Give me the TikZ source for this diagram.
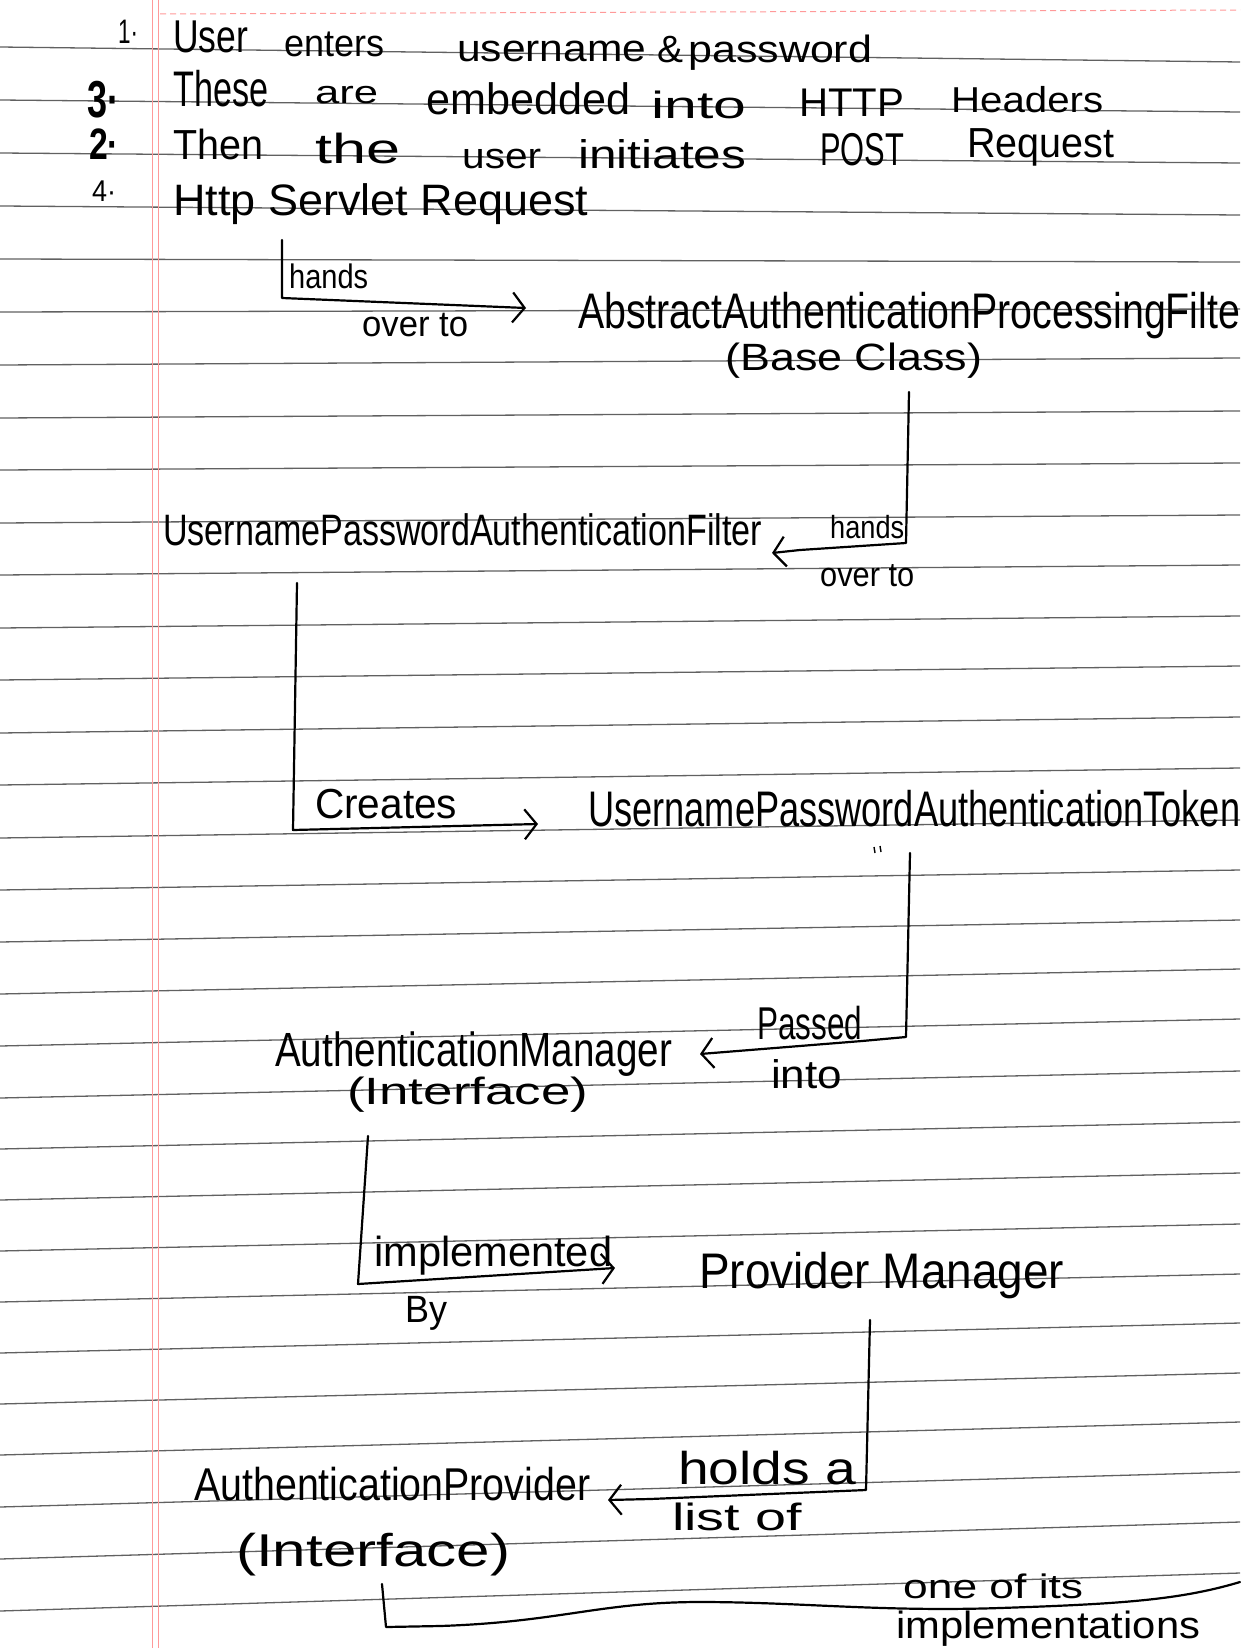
\documentclass[tikz,border=0pt]{standalone}
\usepackage{graphicx}
\usepackage{fontspec}
\setmainfont{Liberation Sans}
\usetikzlibrary{arrows.meta}

% set a word at a given width, squeezing or stretching it sideways only
\newsavebox\fitbox
\newcommand\fitto[2]{\sbox\fitbox{#2}\pgfmathsetmacro\fitsx{#1/\the\wd\fitbox}\scalebox{\fitsx}[1]{\usebox\fitbox}}

\tikzset{
  rule/.style={black!62, line width=1.3pt},
  margin/.style={red!40!white, line width=1pt},
  ink/.style={black, line width=2.2pt, line cap=round, line join=round},
  inkarrow/.style={ink, -{Straight Barb[length=12pt,width=30pt,line width=2.2pt]}},
  hw/.style={inner sep=0pt, anchor=base west, text=black, font=\fontsize{#1}{#1}\selectfont},
  hw/.default=40,
}

\begin{document}
\begin{tikzpicture}[x=1pt, y=-1pt]
\useasboundingbox (0,0) rectangle (1240,1648);
\fill[white] (0,0) rectangle (1240,1648);

% ruled paper: left height / drop towards the right edge
\draw[margin, dash pattern=on 6pt off 4pt] (160,14) -- (1240,10);
\foreach \yl/\d in {47/15, 100/12, 153/10, 206/9, 259/3, 312/-3, 365/-7, 418/-7,
  470/-7, 523/-8, 575/-10, 628/-12, 680/-14, 733/-16, 785/-17, 838/-18, 890/-20,
  942/-22, 994/-25, 1046/-27, 1098/-27, 1149/-27, 1200/-27, 1251/-27, 1302/-28,
  1353/-30, 1404/-31, 1455/-33, 1507/-35, 1559/-37, 1611/-38}{
  \draw[rule] (0,\yl) -- (1240,\yl+\d);
}
\draw[margin] (152,0) -- (152,1648);
\draw[margin] (158,0) -- (158,1648);

% numbered lines at the top
\node[hw=34] (n1) at (118,44) {\fitto{20}{1·}};
\node[hw=46] (u1) at (173,53) {\fitto{75}{User}};
\node[hw=38] (u2) at (284,57) {\fitto{100}{enters}};
\node[hw=38] (u3) at (457,62) {\fitto{189}{username}};
\node[hw=38] (u4) at (657,63) {\fitto{26}{\&}};
\node[hw=38] (u5) at (688,63) {\fitto{184}{password}};

\node[hw=52] (n3) at (87,118) {\fitto{32}{\bfseries 3·}};
\node[hw=50] (t1) at (173,107) {\fitto{95}{These}};
\node[hw=32] (t2) at (315,104) {\fitto{63}{are}};
\node[hw=44] (t3) at (426,115) {\fitto{204}{embedded}};
\node[hw=38] (t4) at (651,119) {\fitto{95}{into}};
\node[hw=40] (t5) at (799,117) {\fitto{105}{HTTP}};
\node[hw=36] (t6) at (951,113) {\fitto{152}{Headers}};

\node[hw=44] (n2) at (89,160) {\fitto{30}{\bfseries 2·}};
\node[hw=42] (r1) at (173,160) {\fitto{90}{Then}};
\node[hw=42] (r2) at (315,164) {\fitto{85}{the}};
\node[hw=36] (r3) at (462,169) {\fitto{79}{user}};
\node[hw=40] (r4) at (578,169) {\fitto{168}{initiates}};
\node[hw=46] (r5) at (820,166) {\fitto{84}{POST}};
\node[hw=42] (r6) at (967,158) {\fitto{147}{Request}};

\node[hw=30] (n4) at (92,201) {\fitto{24}{4·}};
\node[hw=44] (http) at (173,215) {\fitto{415}{Http Servlet Request}};

% hand-over to the base filter
\node[hw=34] (l1a) at (289,288) {\fitto{79}{hands}};
\node[hw=36] (l1b) at (362,336) {\fitto{106}{over to}};
\node[hw=50] (abs) at (578,328) {\fitto{662}{AbstractAuthenticationProcessingFilte}};
\node[hw=38] (absb) at (725,370) {\fitto{257}{(Base Class)}};
\coordinate (a1s) at (282,240);
\coordinate (a1c) at (282,298);
\coordinate (a1e) at (526,308);
\draw[inkarrow] (a1s) -- (a1c) -- (a1e);

% the concrete filter
\node[hw=44] (upf) at (163,545) {\fitto{599}{UsernamePasswordAuthenticationFilter}};
\node[hw=32] (l2a) at (830,538) {\fitto{74}{hands}};
\node[hw=34] (l2b) at (820,586) {\fitto{94}{over to}};
\coordinate (a2s) at (909,392);
\coordinate (a2c) at (906,543);
\coordinate (a2m) at (800,550);
\coordinate (a2e) at (772,553);
\draw[inkarrow] (a2s) -- (a2c) -- (a2m) -- (a2e);

% the token
\node[hw=42] (cr) at (315,818) {\fitto{142}{Creates}};
\node[hw=50] (tok) at (588,826) {\fitto{652}{UsernamePasswordAuthenticationToken}};
\coordinate (a3s) at (297,583);
\coordinate (a3c) at (293,830);
\coordinate (a3e) at (538,824);
\draw[inkarrow] (a3s) -- (a3c) -- (a3e);
\draw[black, line width=1.4pt] (874,847) -- (875,853) (880,846) -- (881,852);

% the manager interface
\node[hw=48] (am) at (275,1066) {\fitto{397}{AuthenticationManager}};
\node[hw=38] (ami) at (347,1104) {\fitto{241}{(Interface)}};
\node[hw=46] (l4a) at (757,1039) {\fitto{105}{Passed}};
\node[hw=40] (l4b) at (771,1088) {\fitto{71}{into}};
\coordinate (a4s) at (910,853);
\coordinate (a4c) at (906,1037);
\coordinate (a4m) at (862,1041);
\coordinate (a4e) at (700,1054);
\draw[inkarrow] (a4s) -- (a4c) -- (a4m) -- (a4e);

% its implementation
\node[hw=42] (imp) at (374,1266) {\fitto{238}{implemented}};
\node[hw=38] (by) at (405,1322) {\fitto{42}{By}};
\node[hw=50] (pm) at (699,1288) {\fitto{365}{Provider Manager}};
\coordinate (a5s) at (368,1136);
\coordinate (a5c) at (358,1284);
\coordinate (a5e) at (615,1268);
\draw[inkarrow] (a5s) -- (a5c) -- (a5e);

% the providers
\node[hw=46] (l6a) at (678,1484) {\fitto{178}{holds a}};
\node[hw=38] (l6b) at (672,1530) {\fitto{130}{list of}};
\node[hw=46] (ap) at (194,1500) {\fitto{396}{AuthenticationProvider}};
\node[hw=46] (api) at (236,1566) {\fitto{274}{(Interface)}};
\coordinate (a6s) at (870,1320);
\coordinate (a6c) at (866,1490);
\coordinate (a6m) at (650,1499);
\coordinate (a6e) at (608,1500);
\draw[inkarrow] (a6s) -- (a6c) -- (a6m) -- (a6e);

% one of its implementations
\node[hw=34] (oi) at (903,1598) {\fitto{180}{one of its}};
\node[hw=38] (impl) at (896,1638) {\fitto{304}{implementations}};
\coordinate (a7s) at (382,1584);
\coordinate (a7c) at (386,1627);
\coordinate (a7e) at (1240,1582);
\draw[ink] (a7s) -- (a7c) -- (440,1626) .. controls (560,1622) and (600,1602) .. (700,1602)
  .. controls (800,1602) and (880,1612) .. (1000,1608) .. controls (1120,1604) and (1180,1600) .. (a7e);
\end{tikzpicture}
\end{document}
